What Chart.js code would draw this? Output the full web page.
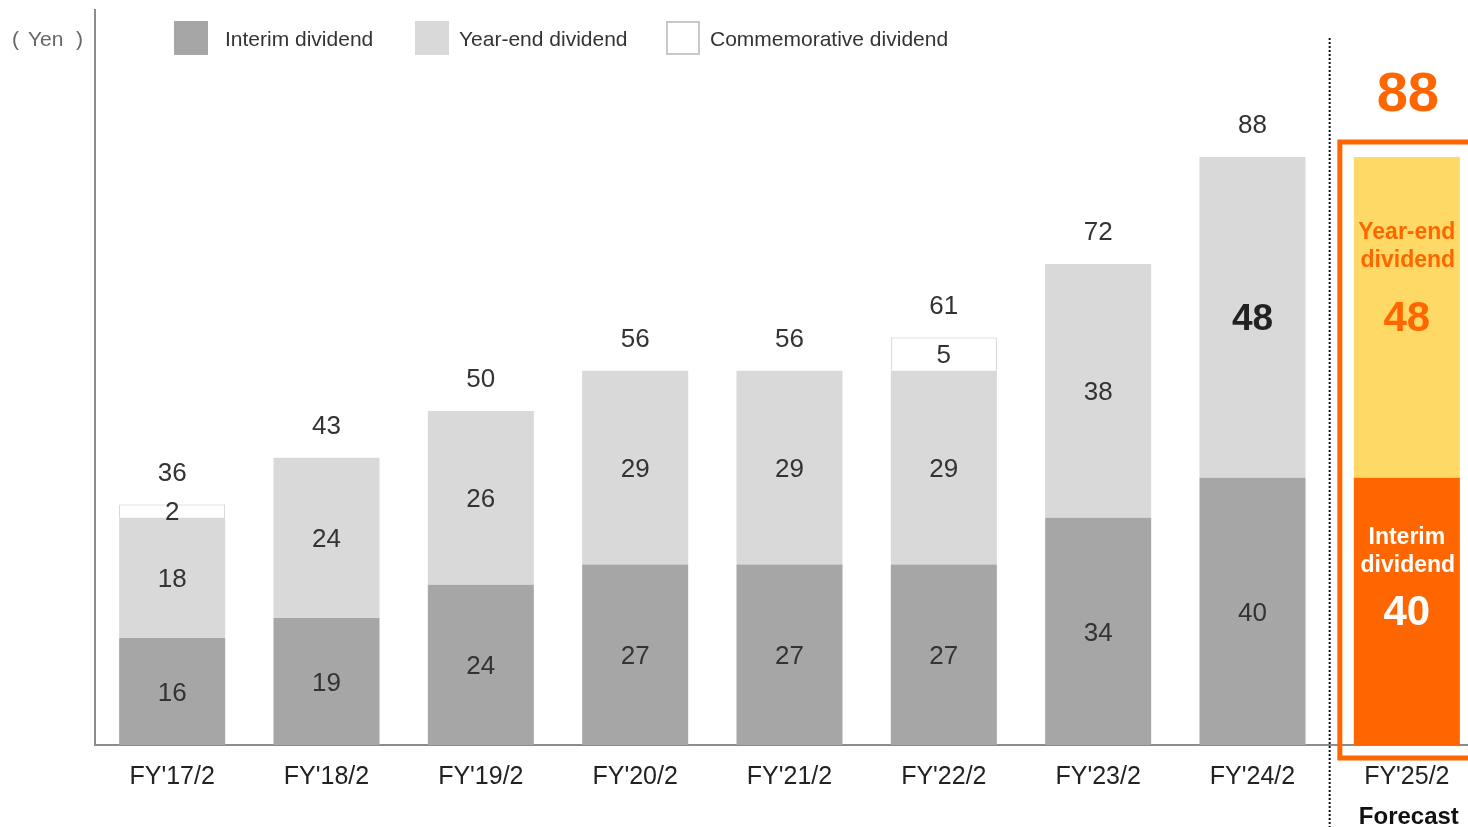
<!DOCTYPE html>
<html>
<head>
<meta charset="utf-8">
<title>Dividend per share</title>
<script src="https://cdn.jsdelivr.net/npm/chart.js@4.4.1/dist/chart.umd.min.js"></script>
<style>
  html, body { margin: 0; padding: 0; background: #fff; overflow: hidden; }
  #wrap { width: 1468px; height: 827px; overflow: hidden; position: relative; }
  canvas { display: block; }
</style>
</head>
<body>
<div id="wrap"><canvas id="c" width="1500" height="827"></canvas></div>
<script>
// Fiscal years (the last one is the forecast year)
const categories = ["FY'17/2", "FY'18/2", "FY'19/2", "FY'20/2", "FY'21/2", "FY'22/2", "FY'23/2", "FY'24/2", "FY'25/2"];
// Dividend per share, yen
const interimDividend       = [16, 19, 24, 27, 27, 27, 34, 40, 40];
const yearEndDividend       = [18, 24, 26, 29, 29, 29, 38, 48, 48];
const commemorativeDividend = [2, null, null, null, null, 5, null, null, null];
const totalDividend         = [36, 43, 50, 56, 56, 61, 72, 88, 88];
const seriesNames = ["Interim dividend", "Year-end dividend", "Commemorative dividend"];
const forecastIndex = 8;
const forecastNote = "Forecast";

const FONT = "'Liberation Sans', Arial, Helvetica, sans-serif";
const GRAY_DARK = '#a6a6a6';
const GRAY_LIGHT = '#d9d9d9';
const ORANGE = '#ff6600';
const YELLOW = '#fed966';
const DY = 2; // optical nudge for middle-baseline text

const colorFor = (base, forecast) => categories.map((_, i) => i === forecastIndex ? forecast : base);

const overlay = {
  id: 'overlay',
  beforeDatasetsDraw(chart) {
    const { ctx, scales: { x } } = chart;
    ctx.save();
    // unit caption "( Yen )"
    ctx.font = `21px ${FONT}`;
    ctx.fillStyle = '#666';
    ctx.textBaseline = 'middle';
    ctx.textAlign = 'left';
    ctx.fillText('(', 12, 38 + DY);
    ctx.fillText('Yen', 28, 38 + DY);
    ctx.fillText(')', 76, 38 + DY);

    // legend
    const items = [
      { box: 174, text: 225, fill: GRAY_DARK, stroke: null },
      { box: 415, text: 459, fill: GRAY_LIGHT, stroke: null },
      { box: 666, text: 710, fill: '#fff', stroke: '#c8c8c8' }
    ];
    items.forEach((it, i) => {
      ctx.fillStyle = it.fill;
      ctx.fillRect(it.box, 21, 34, 34);
      if (it.stroke) {
        ctx.strokeStyle = it.stroke;
        ctx.lineWidth = 2;
        ctx.strokeRect(it.box + 1, 22, 32, 32);
      }
      ctx.fillStyle = '#333';
      ctx.font = `21px ${FONT}`;
      ctx.fillText(seriesNames[i], it.text, 38 + DY);
    });

    // dotted separator between actuals and forecast
    const sepX = (x.getPixelForValue(forecastIndex - 1) + x.getPixelForValue(forecastIndex)) / 2;
    ctx.strokeStyle = '#111';
    ctx.lineWidth = 2;
    ctx.setLineDash([2, 2]);
    ctx.beginPath();
    ctx.moveTo(sepX, 38);
    ctx.lineTo(sepX, chart.height);
    ctx.stroke();
    ctx.restore();
  },
  afterDatasetsDraw(chart) {
    const { ctx, scales: { x, y } } = chart;
    ctx.save();
    ctx.textAlign = 'center';
    ctx.textBaseline = 'middle';

    // segment values
    chart.data.datasets.forEach((ds, di) => {
      const meta = chart.getDatasetMeta(di);
      meta.data.forEach((bar, i) => {
        const v = ds.data[i];
        if (v == null || i === forecastIndex) return;
        const cy = (bar.y + bar.base) / 2;
        const emphasize = i === forecastIndex - 1 && di === 1;
        ctx.font = emphasize ? `bold 37px ${FONT}` : `26px ${FONT}`;
        ctx.fillStyle = emphasize ? '#222' : '#333';
        ctx.fillText(String(v), bar.x, cy + DY);
      });
    });

    // totals above each bar
    totalDividend.forEach((t, i) => {
      if (i === forecastIndex) return;
      const top = y.getPixelForValue(t);
      ctx.font = `26px ${FONT}`;
      ctx.fillStyle = '#333';
      ctx.fillText(String(t), x.getPixelForValue(i), top - 33 + DY);
    });

    // forecast bar: captions and emphasised values
    const fx = x.getPixelForValue(forecastIndex);
    const base = y.getPixelForValue(0);
    const split = y.getPixelForValue(interimDividend[forecastIndex]);
    const top = y.getPixelForValue(totalDividend[forecastIndex]);
    const midInt = (base + split) / 2;
    const midYe = (split + top) / 2;

    ctx.fillStyle = ORANGE;
    ctx.font = `bold 23px ${FONT}`;
    ctx.fillText('Year-end', fx, midYe - 87 + DY);
    ctx.fillText('dividend', fx + 1, midYe - 59 + DY);
    ctx.font = `bold 42px ${FONT}`;
    ctx.fillText(String(yearEndDividend[forecastIndex]), fx, midYe + DY);

    ctx.fillStyle = '#fff';
    ctx.font = `bold 23px ${FONT}`;
    ctx.fillText('Interim', fx, midInt - 76 + DY);
    ctx.fillText('dividend', fx + 1, midInt - 48 + DY);
    ctx.font = `bold 42px ${FONT}`;
    ctx.fillText(String(interimDividend[forecastIndex]), fx, midInt + DY);

    ctx.fillStyle = ORANGE;
    ctx.font = `bold 56px ${FONT}`;
    ctx.fillText(String(totalDividend[forecastIndex]), fx + 1, top - 64 + DY + 1);

    // frame around the forecast bar
    ctx.strokeStyle = ORANGE;
    ctx.lineWidth = 5;
    const frTop = top - 15;
    ctx.strokeRect(fx - 67, frTop, 200, base + 13 - frTop);

    // note under the forecast year
    ctx.fillStyle = '#111';
    ctx.font = `bold 24px ${FONT}`;
    ctx.fillText(forecastNote, fx + 2, 815 + DY);
    ctx.restore();
  }
};

new Chart(document.getElementById('c'), {
  type: 'bar',
  data: {
    labels: categories,
    datasets: [
      {
        label: seriesNames[0],
        data: interimDividend,
        backgroundColor: colorFor(GRAY_DARK, ORANGE),
        stack: 'div'
      },
      {
        label: seriesNames[1],
        data: yearEndDividend,
        backgroundColor: colorFor(GRAY_LIGHT, YELLOW),
        stack: 'div'
      },
      {
        label: seriesNames[2],
        data: commemorativeDividend,
        backgroundColor: '#ffffff',
        borderColor: '#c8c8c8',
        borderWidth: 1,
        stack: 'div'
      }
    ]
  },
  options: {
    responsive: false,
    animation: false,
    devicePixelRatio: 1,
    layout: { padding: { top: 10, right: 16, left: 0, bottom: 0 } },
    datasets: { bar: { barPercentage: 0.687, categoryPercentage: 1 } },
    plugins: {
      legend: { display: false },
      tooltip: { enabled: false },
      title: { display: false }
    },
    scales: {
      x: {
        stacked: true,
        grid: { display: false, drawTicks: false },
        border: { display: true, color: '#8c8c8c', width: 2 },
        ticks: {
          color: '#222',
          font: { family: FONT, size: 25 },
          padding: 17,
          maxRotation: 0,
          autoSkip: false
        },
        afterFit(scale) { scale.height = 82; }
      },
      y: {
        stacked: true,
        min: 0,
        max: 110,
        grid: { display: false, drawTicks: false },
        border: { display: true, color: '#8c8c8c', width: 2 },
        ticks: { display: false },
        afterFit(scale) { scale.width = 95; }
      }
    }
  },
  plugins: [overlay]
});
</script>
</body>
</html>
